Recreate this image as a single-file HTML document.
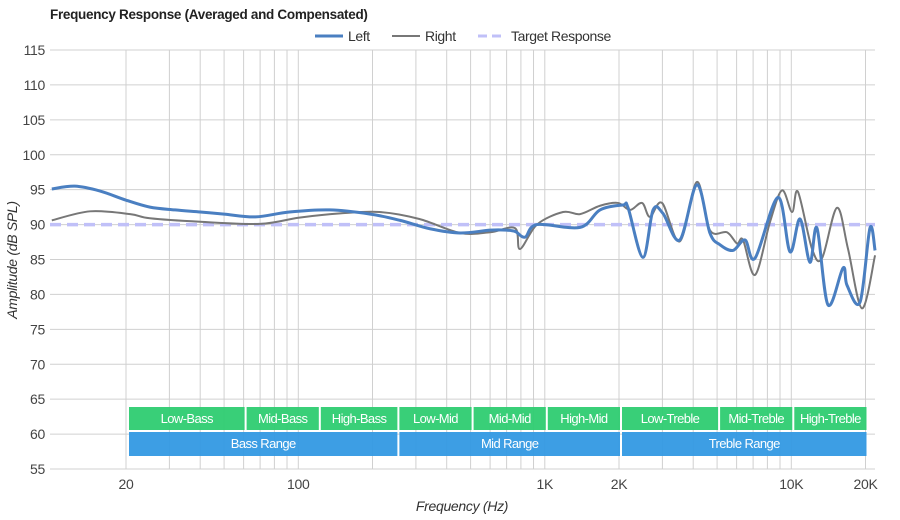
<!DOCTYPE html>
<html><head><meta charset="utf-8"><style>
body{margin:0;background:#fff;}
svg{display:block;font-family:"Liberation Sans",Arial,sans-serif;}
</style></head><body>
<svg id="c" width="900" height="520" viewBox="0 0 900 520">
<text x="50" y="19" font-size="13.5" font-weight="bold" fill="#222" letter-spacing="-0.3">Frequency Response (Averaged and Compensated)</text>
<g>
<g><line x1="315" y1="36" x2="343" y2="36" stroke="#4a7fc1" stroke-width="3"/><text x="348" y="41" font-size="14" fill="#333" letter-spacing="-0.4">Left</text></g>
<g><line x1="392" y1="36" x2="420" y2="36" stroke="#777" stroke-width="2"/><text x="425" y="41" font-size="14" fill="#333" letter-spacing="-0.4">Right</text></g>
<g><line x1="478" y1="36" x2="506" y2="36" stroke="#c0c0f8" stroke-width="3" stroke-dasharray="9,5"/><text x="511" y="41" font-size="14" fill="#333" letter-spacing="-0.4">Target Response</text></g>
</g>
<g id="grid"></g>
<g id="bands"></g>
<g id="series"></g>
<g id="axes"></g>
<text x="462" y="511" font-size="14" font-style="italic" text-anchor="middle" fill="#333" letter-spacing="-0.3">Frequency (Hz)</text>
<text transform="translate(17,260) rotate(-90)" font-size="14" font-style="italic" text-anchor="middle" fill="#333" letter-spacing="-0.3">Amplitude (dB SPL)</text>
</svg>
<script>
const yTicks=[55,60,65,70,75,80,85,90,95,100,105,110,115];
const xTickVals=[20,100,1000,2000,10000,20000];
const xTickLabels=["20","100","1K","2K","10K","20K"];
const leftFreq=[10,12.4,15.7,20,25,31.6,40,50,67,92,134,196,259,342,453,600,700,760,832,929,1390,1675,2075,2177,2500,2750,3015,3530,4140,4675,5140,5800,6490,7130,8830,9880,10850,11900,12710,14090,16220,16830,19010,20850,21870];
const leftDb=[95.1,95.5,94.8,93.5,92.5,92.1,91.8,91.5,91.1,91.8,92.1,91.5,90.6,89.4,88.8,89.2,89.2,89.0,88.2,90,89.6,92.1,92.8,92.4,85.3,92.1,91.6,87.8,95.7,88.8,87.1,86.3,87.8,85.2,93.9,86.1,90.8,84.6,89.5,78.5,83.8,81.3,78.9,89.5,86.3];
const rightFreq=[10,14.3,20.8,25,40,70,101,148,214,310,453,600,757,793,929,1186,1390,1675,1982,2217,2480,2670,2990,3530,4140,4675,5485,6020,6370,7130,8200,9170,10070,10640,12140,13330,15320,16990,19360,21870];
const rightDb=[90.6,91.9,91.5,90.9,90.4,90.1,91,91.6,91.8,90.8,88.8,88.9,89.5,86.5,90,91.8,91.5,92.7,93.1,92.1,93.1,91.1,93.1,87.6,96.1,89.2,88.9,87.3,87.8,82.8,90.4,94.9,91.8,94.7,86.5,85.2,92.4,86.5,78,85.6];
const targetDb=90;
const bandNames=["Low-Bass","Mid-Bass","High-Bass","Low-Mid","Mid-Mid","High-Mid","Low-Treble","Mid-Treble","High-Treble"];
const bandEdges=[20,60,120,250,500,1000,2000,5000,10000,20000];
const rangeNames=["Bass Range","Mid Range","Treble Range"];
const rangeEdges=[20,250,2000,20000];

const NS="http://www.w3.org/2000/svg";
const X0=50,X1=875,Y0=50,Y1=469;
function x(f){return 126+246.5*Math.log10(f/20);}
function y(d){return Y0+(115-d)*(Y1-Y0)/60;}
function mk(t,a,p){const e=document.createElementNS(NS,t);for(const k in a)e.setAttribute(k,a[k]);p.appendChild(e);return e;}
const grid=document.getElementById('grid');
yTicks.forEach(v=>{
  const l=mk('line',{x1:X0,x2:X1,y1:y(v),y2:y(v),stroke:'#d0d0d0','stroke-width':1},grid);
  
  
});
const vf=[];
for(let dec=10;dec<=10000;dec*=10)for(let m=1;m<10;m++){const f=dec*m;if(f>=20&&f<=20000)vf.push(f);}
vf.push(20000);
vf.forEach(f=>{
  const l=mk('line',{x1:x(f),x2:x(f),y1:Y0,y2:Y1,stroke:'#d0d0d0','stroke-width':1},grid);
  
  
});
const axes=document.getElementById('axes');
yTicks.forEach(v=>{
  const t=mk('text',{x:45,y:y(v)+5,'font-size':14,'text-anchor':'end',fill:'#444','letter-spacing':'-0.3'},axes);
  t.textContent=v;
  
  
});
xTickVals.forEach((f,i)=>{
  const t=mk('text',{x:x(f),y:489,'font-size':14,'text-anchor':'middle',fill:'#444','letter-spacing':'-0.3'},axes);
  t.textContent=xTickLabels[i];
  
  
});
const bands=document.getElementById('bands');
for(let i=0;i<bandNames.length;i++){
  const a=x(bandEdges[i])+3,b=x(bandEdges[i+1])+1;
  const r=mk('rect',{x:a,y:407,width:b-a,height:23,fill:'#2ecc71','fill-opacity':0.95},bands);
  
  
  const t=mk('text',{x:(a+b)/2,y:423,'font-size':13,'text-anchor':'middle',fill:'#fff','letter-spacing':'-0.6'},bands);
  t.textContent=bandNames[i];
  
  
}
for(let i=0;i<rangeNames.length;i++){
  const a=x(rangeEdges[i])+3,b=x(rangeEdges[i+1])+1;
  const r=mk('rect',{x:a,y:432,width:b-a,height:24,fill:'#3399e3','fill-opacity':0.95},bands);
  
  
  const t=mk('text',{x:(a+b)/2,y:448,'font-size':13,'text-anchor':'middle',fill:'#fff','letter-spacing':'-0.6'},bands);
  t.textContent=rangeNames[i];
  
  
}
function path(fs,ds){
  const p=fs.map((f,i)=>[x(f),y(ds[i])]);
  let d='M'+p[0][0]+','+p[0][1];
  for(let i=0;i<p.length-1;i++){
    const p0=p[i-1]||p[i],p1=p[i],p2=p[i+1],p3=p[i+2]||p2;
    const c1=[p1[0]+(p2[0]-p0[0])/6,p1[1]+(p2[1]-p0[1])/6];
    const c2=[p2[0]-(p3[0]-p1[0])/6,p2[1]-(p3[1]-p1[1])/6];
    d+=' C'+c1+' '+c2+' '+p2;
  }
  return d;
}
const s=document.getElementById('series');
const tl=mk('line',{x1:X0,x2:X1,y1:y(targetDb),y2:y(targetDb),stroke:'#c0c0f8','stroke-width':3.5,'stroke-dasharray':'11,6'},s);


const rp=mk('path',{d:path(rightFreq,rightDb),fill:'none',stroke:'#777','stroke-width':2},s);


const lp=mk('path',{d:path(leftFreq,leftDb),fill:'none',stroke:'#4a7fc1','stroke-width':3},s);


</script>
</body></html>
